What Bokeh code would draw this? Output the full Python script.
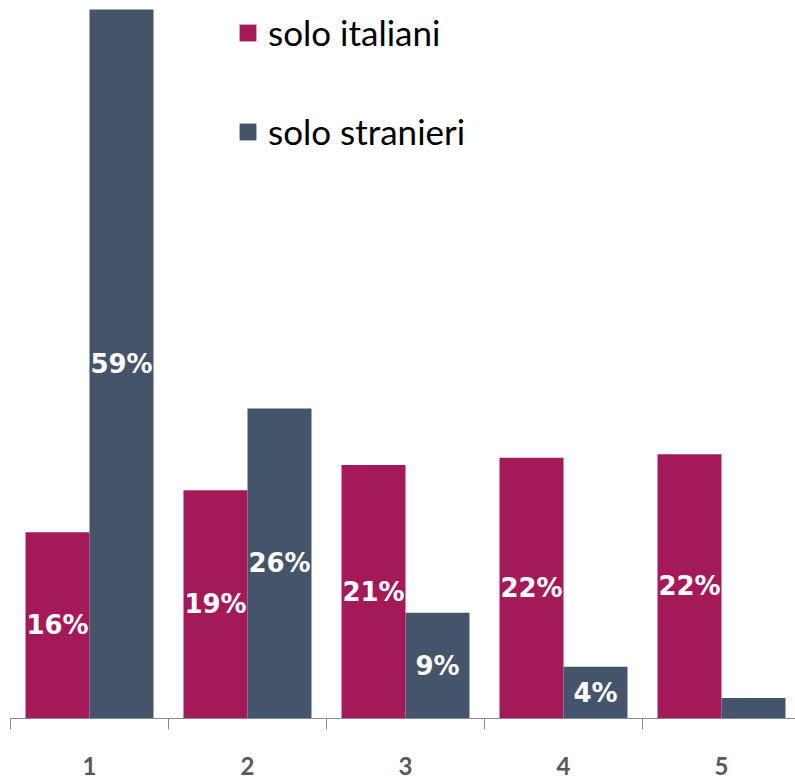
from bokeh.plotting import figure
from bokeh.models import Range1d, FixedTicker, Legend, LegendItem, ColumnDataSource
from bokeh.core.properties import value
from bokeh.embed import file_html
from bokeh.resources import INLINE

# ---- data ----
categories = ["1", "2", "3", "4", "5"]
italiani = [15.5, 19.0, 21.1, 21.7, 22.0]
stranieri = [59.0, 25.8, 8.8, 4.3, 1.7]
italiani_labels = ["16%", "19%", "21%", "22%", "22%"]
stranieri_labels = ["59%", "26%", "9%", "4%", ""]
series_names = ["solo italiani", "solo stranieri"]
colors = ["#A41A59", "#44546A"]

# ---- layout constants ----
xpos = [i + 1 for i in range(len(categories))]
bar_w = 0.405
off = bar_w / 2

src_i = ColumnDataSource(dict(
    x=[v - off for v in xpos], top=italiani,
    ymid=[t / 2 for t in italiani], lab=italiani_labels))
src_s = ColumnDataSource(dict(
    x=[v + off for v in xpos], top=stranieri,
    ymid=[t / 2 for t in stranieri], lab=stranieri_labels))

p = figure(width=795, height=782, output_backend="svg", toolbar_location=None,
           x_range=Range1d(0.5, 0.5 + 785 / 158), y_range=Range1d(0, 59.75),
           min_border_left=10, min_border_right=0, min_border_top=0,
           min_border_bottom=64)
p.outline_line_color = None
p.xgrid.visible = False
p.ygrid.visible = False
p.yaxis.visible = False

r1 = p.vbar(x="x", top="top", width=bar_w, source=src_i, fill_color=colors[0],
            line_color=None)
r2 = p.vbar(x="x", top="top", width=bar_w, source=src_s, fill_color=colors[1],
            line_color=None)

for src in (src_i, src_s):
    p.text(x="x", y="ymid", text="lab", source=src, text_color="white",
           text_font=value("DejaVu Sans"), text_font_style="bold",
           text_font_size="26px", text_align="center", text_baseline="middle")

ax = p.xaxis[0]
ax.ticker = FixedTicker(ticks=xpos, minor_ticks=[v - 0.5 for v in xpos] + [xpos[-1] + 0.5])
ax.major_label_overrides = {v: c for v, c in zip(xpos, categories)}
ax.major_tick_out = 0
ax.major_tick_in = 0
ax.minor_tick_out = 11
ax.minor_tick_in = 0
ax.axis_line_color = "#8C8C8C"
ax.minor_tick_line_color = "#8C8C8C"
ax.major_label_text_font = "Lato"
ax.major_label_text_font_style = "bold"
ax.major_label_text_font_size = "24px"
ax.major_label_text_color = "#595959"
ax.major_label_standoff = 27

legend = Legend(items=[LegendItem(label=series_names[0], renderers=[r1]),
                       LegendItem(label=series_names[1], renderers=[r2])],
                location=(227, 566), orientation="vertical",
                padding=0, margin=0, border_line_alpha=0, background_fill_alpha=0,
                glyph_width=21, glyph_height=21, label_height=21, label_standoff=10,
                spacing=57, label_text_font="Lato", label_text_font_size="35px",
                label_text_color="#000000")
p.add_layout(legend, "center")

open("out.html", "w").write(file_html(p, INLINE))
